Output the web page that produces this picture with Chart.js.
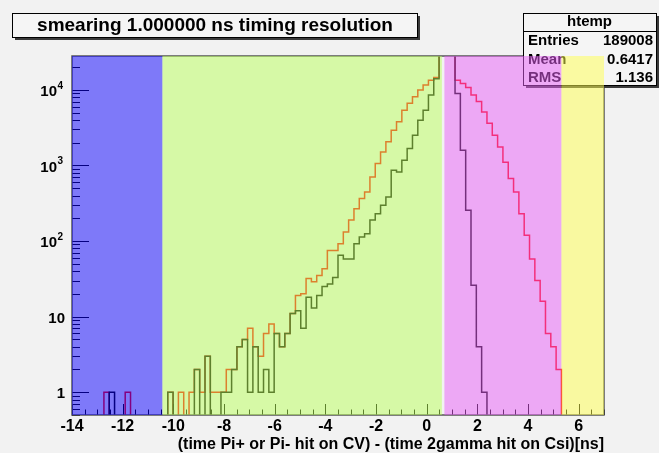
<!DOCTYPE html>
<html lang="en">
<head>
<meta charset="UTF-8">
<title>smearing 1.000000 ns timing resolution</title>
<script src="https://cdn.jsdelivr.net/npm/chart.js"></script>
<style>
  html, body { margin: 0; padding: 0; background: #f2f2f2; }
  #wrap { width: 659px; height: 453px; }
</style>
</head>
<body>
<div id="wrap"><canvas id="timing"></canvas></div>
<script>
// binning of htemp: 100 bins between -14 and 7 ns
const binLow = -14;
const binHigh = 7;
const nBins = 100;

// bin contents, all hits (red) and the selected subset (black)
const countsAll = [
  0, 0, 0, 0, 0, 0, 1, 0, 0, 0,
  1, 0, 0, 0, 0, 0, 0, 0, 1, 0,
  1, 0, 1, 2, 1, 3, 1, 1, 1, 2,
  2, 4, 5, 7, 4, 3, 6, 8, 6, 4,
  6, 11, 19, 20, 32, 29, 35, 43, 75, 75,
  92, 132, 189, 268, 365, 445, 705, 1060, 1510, 2050,
  2920, 3790, 5350, 6630, 8110, 9960, 11600, 13400, 14500, 31000,
  33000, 30000, 13400, 12100, 10700, 8540, 6990, 5100, 3600, 2500,
  1750, 1100, 670, 445, 230, 119, 58, 30, 16, 6,
  4, 2, 0, 0, 0, 0, 0, 0, 0, 0
];
const countsCut = [
  0, 0, 0, 0, 0, 0, 0, 1, 0, 0,
  0, 0, 0, 0, 0, 0, 0, 0, 1, 0,
  0, 0, 0, 2, 0, 3, 0, 0, 1, 1,
  2, 4, 5, 1, 4, 1, 2, 1, 6, 4,
  6, 11, 12, 7, 18, 13, 19, 25, 27, 33,
  65, 58, 58, 92, 113, 125, 189, 230, 297, 381,
  860, 820, 1170, 1680, 2500, 3960, 5350, 8540, 14000, 29500,
  31000, 29000, 8960, 1590, 255, 26, 4, 1, 0, 0,
  0, 0, 0, 0, 0, 0, 0, 0, 0, 0,
  0, 0, 0, 0, 0, 0, 0, 0, 0, 0
];

// timing windows shaded over the histogram [from, to] in ns
const bandRanges = [[-14, -10.43], [-10.43, 0.6], [0.7, 5.32], [5.32, 7]];
const bandColors = ['rgba(10,0,255,0.5)', 'rgba(185,255,90,0.5)', 'rgba(232,94,248,0.5)', 'rgba(255,255,78,0.5)'];

const xTicks = [-14, -12, -10, -8, -6, -4, -2, 0, 2, 4, 6];
const yDecades = [0, 1, 2, 3, 4];

const titleText = 'smearing 1.000000 ns timing resolution';
const xTitle = '(time Pi+ or Pi- hit on CV) - (time 2gamma hit on Csi)[ns]';
const statsName = 'htemp';
const statsRows = [['Entries', '189008'], ['Mean', '0.6417'], ['RMS', '1.136']];

const FONT = "'Liberation Sans', Arial, Helvetica, sans-serif";

const binWidth = (binHigh - binLow) / nBins;
const edges = Array.from({length: nBins + 1}, (_, i) => binLow + i * binWidth);
// empty bins go below the log axis floor and get clipped
const emptyLevel = 0.1;
function histPoints(counts) {
  return edges.map((x, i) => ({x: x, y: Math.max(counts[Math.min(i, nBins - 1)], emptyLevel)}));
}

function boxWithShadow(ctx, x, y, w, h) {
  ctx.fillStyle = '#3a3a3a';
  ctx.fillRect(x + 3, y + 3, w, h);
  ctx.fillStyle = '#f5f5f5';
  ctx.fillRect(x, y, w, h);
  ctx.strokeStyle = '#000';
  ctx.lineWidth = 1;
  ctx.strokeRect(x + 0.5, y + 0.5, w, h);
}

const rootLook = {
  id: 'rootLook',
  beforeDraw(chart) {
    const {ctx, width, height} = chart;
    ctx.save();
    ctx.fillStyle = '#f2f2f2';
    ctx.fillRect(0, 0, width, height);
    ctx.restore();
  },
  afterDatasetsDraw(chart) {
    const {ctx, chartArea: a, scales: {x, y}} = chart;
    ctx.save();

    // ticks point inwards, as in ROOT
    ctx.strokeStyle = '#000';
    ctx.lineWidth = 1;
    ctx.beginPath();
    for (let v = binLow; v <= binHigh; v += 0.5) {
      const px = Math.round(x.getPixelForValue(v)) + 0.5;
      const len = Math.abs(v % 2) < 1e-9 ? 11 : 5.5;
      ctx.moveTo(px, a.bottom);
      ctx.lineTo(px, a.bottom - len);
    }
    for (let e = -1; e <= 4; e++) {
      for (let m = 1; m <= 9; m++) {
        const v = m * Math.pow(10, e);
        if (v < y.min || v > y.max) continue;
        const py = Math.round(y.getPixelForValue(v)) + 0.5;
        ctx.moveTo(a.left, py);
        ctx.lineTo(a.left + (m === 1 ? 17 : 8), py);
      }
    }
    ctx.stroke();

    ctx.strokeStyle = '#555';
    ctx.lineWidth = 1.5;
    ctx.strokeRect(a.left, a.top, a.right - a.left, a.bottom - a.top);

    // stats box
    const sx = 523, sy = 13, sw = 133, sh = 72;
    boxWithShadow(ctx, sx, sy, sw, sh);
    ctx.beginPath();
    ctx.moveTo(sx, sy + 18.5);
    ctx.lineTo(sx + sw, sy + 18.5);
    ctx.stroke();
    ctx.fillStyle = '#000';
    ctx.font = 'bold 15px ' + FONT;
    ctx.textBaseline = 'middle';
    ctx.textAlign = 'center';
    ctx.fillText(statsName, sx + sw / 2, sy + 9);
    statsRows.forEach(([k, v], i) => {
      const ry = sy + 28 + i * 18.5;
      ctx.textAlign = 'left';
      ctx.fillText(k, sx + 5, ry);
      ctx.textAlign = 'right';
      ctx.fillText(v, sx + sw - 3, ry);
    });

    // shaded windows sit on top of everything inside the frame
    ctx.beginPath();
    ctx.rect(a.left, a.top, a.right - a.left, a.bottom - a.top);
    ctx.clip();
    bandRanges.forEach(([lo, hi], i) => {
      const x0 = x.getPixelForValue(lo);
      const x1 = x.getPixelForValue(hi);
      ctx.fillStyle = bandColors[i];
      ctx.fillRect(x0, a.top, x1 - x0, a.bottom - a.top);
    });
    ctx.restore();
  },
  afterDraw(chart) {
    const {ctx, scales: {y}} = chart;
    ctx.save();

    // title box
    boxWithShadow(ctx, 12, 13, 405, 24);
    ctx.fillStyle = '#000';
    ctx.font = 'bold 19px ' + FONT;
    ctx.textAlign = 'center';
    ctx.textBaseline = 'middle';
    ctx.fillText(titleText, 215, 25.5);

    // log axis labels with superscript exponents
    ctx.textBaseline = 'middle';
    yDecades.forEach(e => {
      const py = y.getPixelForValue(Math.pow(10, e)) + 2;
      ctx.font = 'bold 15px ' + FONT;
      if (e < 2) {
        ctx.textAlign = 'right';
        ctx.fillText(String(Math.pow(10, e)), 65, py);
      } else {
        ctx.textAlign = 'right';
        ctx.fillText('10', 57, py);
        ctx.font = 'bold 10px ' + FONT;
        ctx.textAlign = 'left';
        ctx.fillText(String(e), 57.5, py - 6);
      }
    });
    ctx.restore();
  }
};

new Chart(document.getElementById('timing'), {
  type: 'line',
  data: {
    datasets: [
      {
        label: 'selected',
        data: histPoints(countsCut),
        borderColor: '#000000',
        borderWidth: 1.5,
        stepped: true,
        pointRadius: 0,
        fill: false
      },
      {
        label: 'all',
        data: histPoints(countsAll),
        borderColor: '#ff0000',
        borderWidth: 1.5,
        stepped: true,
        pointRadius: 0,
        fill: false
      }
    ]
  },
  options: {
    responsive: true,
    maintainAspectRatio: false,
    animation: false,
    devicePixelRatio: 1,
    layout: { padding: { top: 56, right: 55, left: 0, bottom: 0 } },
    plugins: { legend: { display: false }, tooltip: { enabled: false }, title: { display: false } },
    scales: {
      x: {
        type: 'linear',
        min: binLow,
        max: binHigh,
        afterFit(scale) { scale.height = 38; },
        afterBuildTicks(scale) { scale.ticks = xTicks.map(v => ({value: v})); },
        grid: { display: false, drawTicks: false },
        border: { display: false },
        ticks: {
          color: '#000',
          padding: 2,
          maxRotation: 0,
          autoSkip: false,
          font: { family: FONT, size: 16, weight: 'bold' },
          callback: v => String(v)
        },
        title: {
          display: true,
          text: xTitle,
          align: 'end',
          color: '#000',
          padding: 0,
          font: { family: FONT, size: 16, weight: 'bold', lineHeight: 1 }
        }
      },
      y: {
        type: 'logarithmic',
        min: 0.5,
        max: 28000,
        afterFit(scale) { scale.width = 72; },
        grid: { display: false, drawTicks: false },
        border: { display: false },
        ticks: { display: false }
      }
    }
  },
  plugins: [rootLook]
});
</script>
</body>
</html>
